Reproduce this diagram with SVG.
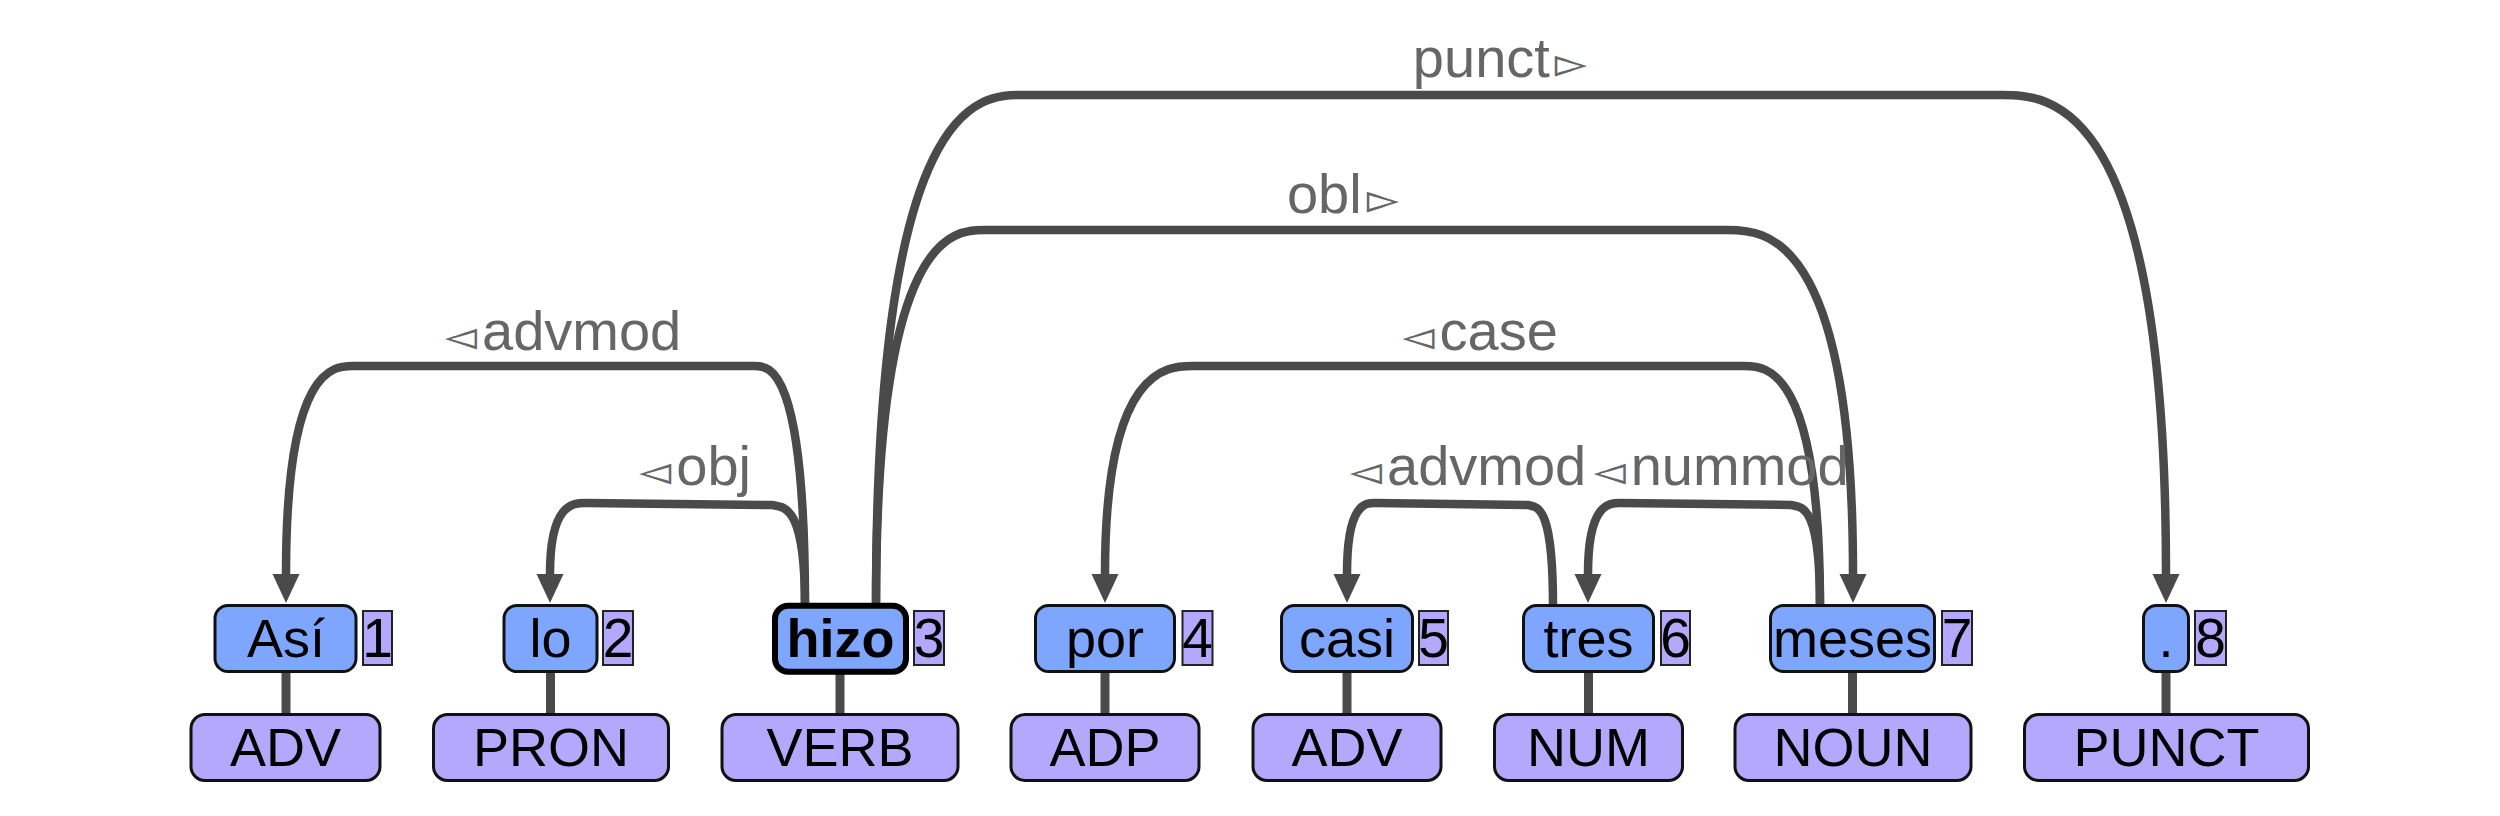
<svg xmlns="http://www.w3.org/2000/svg" width="2500" height="816" viewBox="0 0 2500 816">
<style>
.arc{fill:none;stroke:#4a4a4a;stroke-width:8.5;marker-end:url(#ah)}
.stem{stroke:#4a4a4a;stroke-width:9}
.wb{fill:#7fa6fe;stroke:#111;stroke-width:3}
.wbh{fill:#7fa6fe;stroke:#000;stroke-width:6}
.ib{fill:#b2a8fc;stroke:#222;stroke-width:2}
.pb{fill:#b2a8fc;stroke:#111;stroke-width:3}
.wt{font-family:"Liberation Sans",Arial,sans-serif;font-size:54px;fill:#000;text-anchor:middle}
.it{font-family:"Liberation Sans",Arial,sans-serif;font-size:55px;fill:#000;text-anchor:middle}
.lb{font-family:"Liberation Sans",Arial,sans-serif;font-size:56px;fill:#666;text-anchor:middle}
.tri{font-family:"DejaVu Sans",sans-serif;font-size:42px}
</style>
<defs>
<marker id="ah" markerUnits="userSpaceOnUse" viewBox="0 -14 30 28" markerWidth="30" markerHeight="28" refX="0" refY="0" orient="auto" overflow="visible">
<path d="M0,-13.5 L29,0 L0,13.5 Z" fill="#4a4a4a"/>
</marker>
</defs>
<rect width="2500" height="816" fill="#fff"/>
<g id="connectors">
<path class="arc" d="M876,606 C876,95 979.7,95 1022,95 L2001,95 C2048.8,95 2166,95 2166,574"/>
<path class="arc" d="M876,606 C876,230 953.4,230 985,230 L1727,230 C1763.5,230 1853,230 1853,574"/>
<path class="arc" d="M805,606 C805,366 769.5,366 755,366 L353,366 C333.6,366 286,366 286,574"/>
<path class="arc" d="M1820,606 C1820,366 1766,366 1744,366 L1193,366 C1167.5,366 1105,366 1105,574"/>
<path class="arc" d="M805,606 C805,506 785,507 772,505 L585,503 C573.4,503 550,503 550,574"/>
<path class="arc" d="M1553,606 C1553,506 1538,507 1528,505 L1375,503 C1365.5,503 1347,503 1347,574"/>
<path class="arc" d="M1820,606 C1820,506 1803,507 1791,505 L1620,503 C1609.3,503 1588,503 1588,574"/>
<line class="stem" x1="286" y1="670" x2="286" y2="716"/>
<line class="stem" x1="550.5" y1="670" x2="550.5" y2="716"/>
<line class="stem" x1="840" y1="670" x2="840" y2="716"/>
<line class="stem" x1="1105" y1="670" x2="1105" y2="716"/>
<line class="stem" x1="1347" y1="670" x2="1347" y2="716"/>
<line class="stem" x1="1588.5" y1="670" x2="1588.5" y2="716"/>
<line class="stem" x1="1852.5" y1="670" x2="1852.5" y2="716"/>
<line class="stem" x1="2166" y1="670" x2="2166" y2="716"/>
<text class="lb" x="563" y="350"><tspan class="tri">◅</tspan><tspan dx="5">advmod</tspan></text>
<text class="lb" x="695" y="485"><tspan class="tri">◅</tspan><tspan dx="5">obj</tspan></text>
<text class="lb" x="1500" y="77">punct<tspan class="tri" dx="5">▻</tspan></text>
<text class="lb" x="1343" y="213">obl<tspan class="tri" dx="5">▻</tspan></text>
<text class="lb" x="1480" y="350"><tspan class="tri">◅</tspan><tspan dx="5">case</tspan></text>
<text class="lb" x="1468" y="485"><tspan class="tri">◅</tspan><tspan dx="5">advmod</tspan></text>
<text class="lb" x="1721" y="485"><tspan class="tri">◅</tspan><tspan dx="5">nummod</tspan></text>
</g>
<g id="w1">
<rect class="wb" x="215" y="605.5" width="141" height="66" rx="13"/>
<text class="wt" x="286" y="657">Así</text>
<rect class="ib" x="363" y="611" width="29" height="54"/>
<text class="it" x="377.5" y="657">1</text>
<rect class="pb" x="191" y="714.5" width="189" height="66" rx="14"/>
<text class="wt" x="285.5" y="765.5">ADV</text>
</g>
<g id="w2">
<rect class="wb" x="504" y="605.5" width="93" height="66" rx="13"/>
<text class="wt" x="550.5" y="657">lo</text>
<rect class="ib" x="603" y="611" width="30" height="54"/>
<text class="it" x="618" y="657">2</text>
<rect class="pb" x="433.5" y="714.5" width="235" height="66" rx="14"/>
<text class="wt" x="551" y="765.5">PRON</text>
</g>
<g id="w3">
<rect class="wbh" x="775" y="605.7" width="131" height="66" rx="13"/>
<text class="wt" x="840.5" y="657" font-weight="bold">hizo</text>
<rect class="ib" x="914" y="611" width="30" height="54"/>
<text class="it" x="929" y="657">3</text>
<rect class="pb" x="722" y="714.5" width="236" height="66" rx="14"/>
<text class="wt" x="840" y="765.5">VERB</text>
</g>
<g id="w4">
<rect class="wb" x="1035.5" y="605.5" width="139" height="66" rx="13"/>
<text class="wt" x="1105" y="657">por</text>
<rect class="ib" x="1182.5" y="611" width="30" height="54"/>
<text class="it" x="1197.5" y="657">4</text>
<rect class="pb" x="1011" y="714.5" width="188" height="66" rx="14"/>
<text class="wt" x="1105" y="765.5">ADP</text>
</g>
<g id="w5">
<rect class="wb" x="1281.5" y="605.5" width="131" height="66" rx="13"/>
<text class="wt" x="1347" y="657">casi</text>
<rect class="ib" x="1419" y="611" width="29" height="54"/>
<text class="it" x="1433.5" y="657">5</text>
<rect class="pb" x="1253" y="714.5" width="188" height="66" rx="14"/>
<text class="wt" x="1347" y="765.5">ADV</text>
</g>
<g id="w6">
<rect class="wb" x="1523.5" y="605.5" width="130" height="66" rx="13"/>
<text class="wt" x="1588.5" y="657">tres</text>
<rect class="ib" x="1661" y="611" width="29" height="54"/>
<text class="it" x="1675.5" y="657">6</text>
<rect class="pb" x="1494.5" y="714.5" width="188" height="66" rx="14"/>
<text class="wt" x="1588.5" y="765.5">NUM</text>
</g>
<g id="w7">
<rect class="wb" x="1770.5" y="605.5" width="164" height="66" rx="13"/>
<text class="wt" x="1852.5" y="657">meses</text>
<rect class="ib" x="1942" y="611" width="30" height="54"/>
<text class="it" x="1957" y="657">7</text>
<rect class="pb" x="1735" y="714.5" width="236" height="66" rx="14"/>
<text class="wt" x="1853" y="765.5">NOUN</text>
</g>
<g id="w8">
<rect class="wb" x="2143.5" y="605.5" width="45" height="66" rx="13"/>
<text class="wt" x="2166" y="657">.</text>
<rect class="ib" x="2195" y="611" width="31" height="54"/>
<text class="it" x="2210.5" y="657">8</text>
<rect class="pb" x="2024.5" y="714.5" width="284" height="66" rx="14"/>
<text class="wt" x="2166.5" y="765.5">PUNCT</text>
</g>
</svg>
